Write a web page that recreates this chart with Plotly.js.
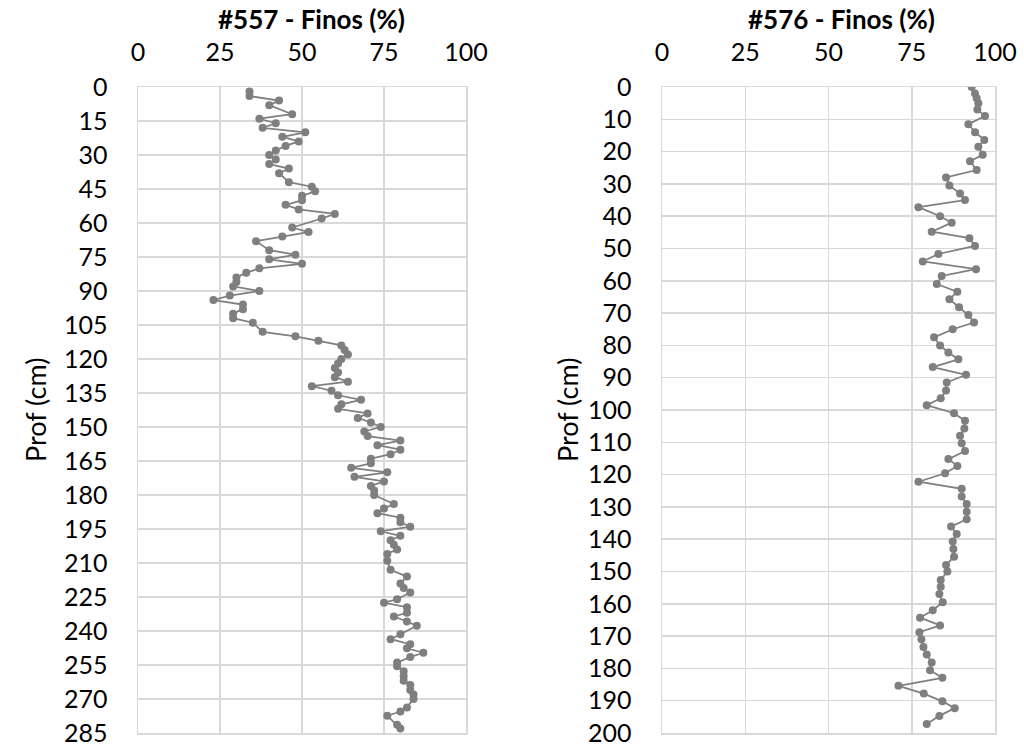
<!DOCTYPE html>
<html>
<head>
<meta charset="utf-8">
<script src="https://cdn.plot.ly/plotly-3.0.1.min.js"></script>
<style>html,body{margin:0;padding:0;background:#fff;}#chart{width:1024px;height:746px;}</style>
</head>
<body>
<div id="chart"></div>
<script>
// #557 - depth (cm) and fines (%)
const depth557 = [2,4,6,8,12,14,16,18,20,22,24,26,28,30,32,34,36,38,42,44,46,48,50,52,54,56,58,62,64,66,68,72,74,76,78,80,82,84,86,88,90,92,94,96,98,100,102,104,108,110,112,114,116,118,120,122,124,126,128,130,132,134,136,138,140,142,144,146,148,150,152,154,156,158,160,162,164,166,168,170,172,174,176,178,180,184,186,188,190,192,194,196,198,200,202,204,206,209,213,216,219,221,223,226,227.5,229.5,232,233.6,235.8,237.7,241.4,243.6,245.8,247.6,249.6,251.5,253.9,255.6,257.8,260,262,263.8,266,268,270,273.7,275.5,277.4,281.4,283];
const finos557 = [34,34,43,40,47,37,42,38,51,44,49,45,42,40,42,40,46,43,46,53,54,50,50,45,49,60,56,47,52,44,36,40,48,40,50,37,33,30,30,29,37,28,23,32,32,29,29,35,38,48,55,62,63,64,62,61,60,61,60,64,53,59,61,68,62,61,70,67,71,74,69,70,80,73,80,77,71,71,65,76,66,75,71,72,72,78,75,73,80,80,83,74,80,77,78,79,76,76,77,82,80,81,83,79,75,82,82,78,82,85,80,77,83,82,87,83,79,79,81,81,81,83,83,84,84,82,80,76,79,80];

// #576 - depth (cm) and fines (%)
const depth576 = [0,2,3.5,5,7,9,11.5,14,16.4,18.5,21,23,25.7,28,30.5,33,35,37.2,40,42,44.8,46.8,49.2,51.7,54,56.4,58.5,61,63.4,65.7,68.2,70.6,72.9,75,77.5,80,82.2,84.3,86.7,89.1,91.5,94,96.4,98.5,101,103.3,105.7,108,110.3,112.7,115.2,117.3,119.6,122.2,124.4,126.8,129.1,131.5,133.8,136.1,138.4,140.7,143,145.4,148,150,152.6,154.7,157,159.5,162,164.3,166.7,168.8,171,173.4,175.7,178.2,180.6,182.9,185.4,187.8,190.2,192.3,194.7,197.2];
const finos576 = [93,94,94.5,95,94.7,97,92,94,96.8,95,96.3,92.5,94.5,85.3,86.3,89.5,91,77,83.5,87,81,92.3,94,83,78.3,94.3,84,82.5,88.7,86.3,89.2,92,93.7,87.3,81.7,83.5,86,89,81.3,91.3,85.5,85.3,83.7,79.5,87.7,91,90.8,89.5,90,91,86,88.7,85,77,90,90,91.5,91.5,91.5,86.8,88.5,87.3,87.5,87.7,85.3,85.7,83.7,83.7,83.3,84.3,81.3,77.5,83.5,77.3,77.9,78.5,79.5,81,80.5,84.2,71,78.6,84.2,87.9,83.3,79.5];

const titles = ['#557 - Finos (%)', '#576 - Finos (%)'];
const yTitle = 'Prof (cm)';
const xTicks = [0,25,50,75,100];
const yTicks557 = [0,15,30,45,60,75,90,105,120,135,150,165,180,195,210,225,240,255,270,285];
const yTicks576 = [0,10,20,30,40,50,60,70,80,90,100,110,120,130,140,150,160,170,180,190,200];

const FONT = 'Lato, "Open Sans", sans-serif';
const GRAY = '#7f7f7f';
const GRID = '#d9d9d9';

const traceStyle = {
  type: 'scatter', mode: 'lines+markers',
  line: {color: GRAY, width: 1.75},
  marker: {color: GRAY, size: 8},
  showlegend: false, hoverinfo: 'x+y'
};

const data = [
  Object.assign({x: finos557, y: depth557, xaxis: 'x', yaxis: 'y'}, traceStyle),
  Object.assign({x: finos576, y: depth576, xaxis: 'x2', yaxis: 'y2'}, traceStyle)
];

function xAx(domain, anchor) {
  return {
    domain: domain, anchor: anchor, side: 'top', range: [0,100],
    tickmode: 'array', tickvals: xTicks, ticktext: xTicks.map(String),
    showgrid: true, gridcolor: GRID, gridwidth: 1.5,
    zeroline: false, showline: true, linecolor: GRID, linewidth: 1.5, mirror: true,
    ticks: '', ticklabelstandoff: 15, ticklabeloverflow: 'allow',
    tickfont: {family: FONT, size: 25, color: '#000'}
  };
}
function yAx(domain, anchor, ticks) {
  return {
    domain: domain, anchor: anchor, range: [ticks[ticks.length - 1], 0],
    tickmode: 'array', tickvals: ticks, ticktext: ticks.map(String),
    showgrid: true, gridcolor: GRID, gridwidth: 1.5,
    zeroline: false, showline: true, linecolor: GRID, linewidth: 1.5, mirror: true,
    ticks: '', ticklabelstandoff: 24, ticklabeloverflow: 'allow',
    tickfont: {family: FONT, size: 25, color: '#000'}
  };
}

const yDom = [1 - 733/746, 1 - 87/746];
const layout = {
  width: 1024, height: 746,
  margin: {l: 0, r: 0, t: 0, b: 0},
  paper_bgcolor: '#fff', plot_bgcolor: '#fff',
  font: {family: FONT, color: '#000'},
  xaxis: xAx([138/1024, 466/1024], 'y'),
  yaxis: yAx(yDom, 'x', yTicks557),
  xaxis2: xAx([662/1024, 995/1024], 'y2'),
  yaxis2: yAx(yDom, 'x2', yTicks576),
  annotations: [
    {text: '<b>' + titles[0] + '</b>', xref: 'paper', yref: 'paper', x: 311/1024, y: 1 - 19/746, showarrow: false, xanchor: 'center', yanchor: 'middle', font: {family: FONT, size: 26, color: '#000'}},
    {text: '<b>' + titles[1] + '</b>', xref: 'paper', yref: 'paper', x: 841/1024, y: 1 - 19/746, showarrow: false, xanchor: 'center', yanchor: 'middle', font: {family: FONT, size: 26, color: '#000'}},
    {text: yTitle, xref: 'paper', yref: 'paper', x: 35/1024, y: 1 - 410/746, textangle: -90, showarrow: false, xanchor: 'center', yanchor: 'middle', font: {family: FONT, size: 27, color: '#000'}},
    {text: yTitle, xref: 'paper', yref: 'paper', x: 567/1024, y: 1 - 410/746, textangle: -90, showarrow: false, xanchor: 'center', yanchor: 'middle', font: {family: FONT, size: 27, color: '#000'}}
  ]
};

Plotly.newPlot('chart', data, layout, {staticPlot: true, displayModeBar: false});
</script>
</body>
</html>
